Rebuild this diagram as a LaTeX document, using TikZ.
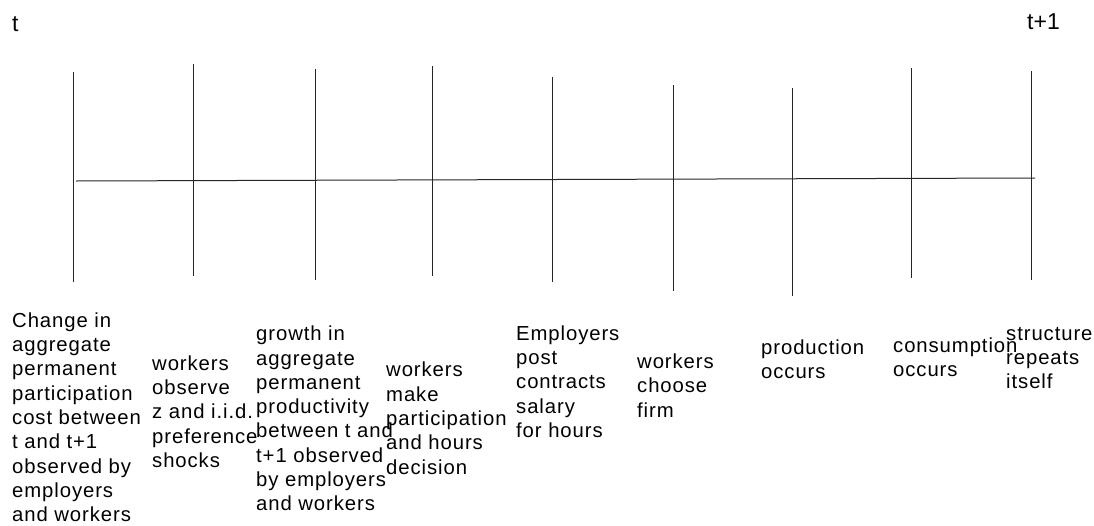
\documentclass[tikz,border=0pt]{standalone}
\usepackage{fontspec}
\setmainfont{Liberation Sans}
\newfontfamily\stepfont{Liberation Sans}[LetterSpace=4.5]
\begin{document}
\begin{tikzpicture}[x=1pt,y=-1pt,
  tick/.style={line width=1pt,draw=black!85},
  axis/.style={line width=1pt,draw=black!85},
  lbl/.style={anchor=north west,inner sep=0pt,align=left,
    font=\stepfont\fontsize{20.3}{24.3}\selectfont},
  period/.style={anchor=base west,inner sep=0pt,
    font=\fontsize{23}{27}\selectfont}]
\useasboundingbox (0,0) rectangle (1094,525);

% period markers
\node[period] (tstart) at (12,31) {t};
\node[period] (tend) at (1027,29) {t+1};

% time axis
\coordinate (axL) at (76,181);
\coordinate (axR) at (1035,178);
\draw[axis] (axL) -- (axR);

% event ticks: x, top, bottom
\foreach \i/\x/\yt/\yb in {1/73/72/282, 2/193/64/276, 3/315/69/280,
    4/432/66/276, 5/552/77/282, 6/673/85/291, 7/792/88/296,
    8/911/68/278, 9/1031/71/280}{
  \coordinate (top\i) at (\x,\yt);
  \coordinate (bot\i) at (\x,\yb);
  \draw[tick] (top\i) -- (bot\i);
}

% event descriptions (first baseline minus strut height)
\node[lbl] (ev1) at (12,310) {\strut Change in\\aggregate\\permanent\\participation\\cost between\\t and t+1\\observed by\\employers\\and workers};
\node[lbl] (ev2) at (152,353) {\strut workers\\observe\\z and i.i.d.\\preference\\shocks};
\node[lbl] (ev3) at (256,323.5) {\strut growth in\\aggregate\\permanent\\productivity\\between t and\\t+1 observed\\by employers\\and workers};
\node[lbl] (ev4) at (386,359.7) {\strut workers\\make\\participation\\and hours\\decision};
\node[lbl] (ev5) at (516,323) {\strut Employers\\post\\contracts\\salary\\for hours};
\node[lbl] (ev6) at (637,351.3) {\strut workers\\choose\\firm};
\node[lbl] (ev7) at (761,337) {\strut production\\occurs};
\node[lbl] (ev8) at (893,335.3) {\strut consumption\\occurs};
\node[lbl] (ev9) at (1006,323) {\strut structure\\repeats\\itself};
\end{tikzpicture}
\end{document}
